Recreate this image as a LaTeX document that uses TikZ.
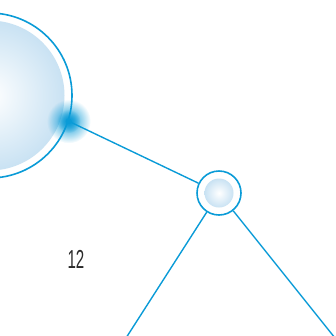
\documentclass[tikz,border=0pt]{standalone}
\usepackage{fontspec}
\setsansfont{Liberation Sans}
\usetikzlibrary{positioning,fadings}

\definecolor{linkblue}{HTML}{0A9BD7}
\definecolor{paleblue}{HTML}{C9E2F3}
\definecolor{numgray}{HTML}{2A2A2A}

\tikzfading[name=glowfade,inner color=transparent!0,outer color=transparent!100]

\tikzset{
  ring/.style={circle,draw=linkblue,line width=1.6pt,fill=white,inner sep=0pt},
  link/.style={draw=linkblue,line width=1.4pt},
  pale/.style={inner color=white,outer color=paleblue},
}

\begin{document}
\begin{tikzpicture}[x=1pt,y=-1pt]
\useasboundingbox (0,0) rectangle (336,335);
% nodes
\node[ring,minimum size=165pt] (hub) at (-10.5,95.5) {};
\shade[pale] (hub.center) circle (75pt);
\node[ring,minimum size=44pt] (sub) at (219,193) {};
\shade[pale] (sub.center) circle (14.5pt);
\coordinate (glow) at (hub.-18);
\coordinate (lowL) at (126,338);
\coordinate (lowR) at (335,338);
% links
\draw[link] (glow) -- (sub);
\draw[link] (sub) -- (lowL);
\draw[link] (sub) -- (lowR);
\fill[linkblue,path fading=glowfade] (glow) circle (22pt);
\fill[linkblue,path fading=glowfade] (glow) circle (12pt);
\fill[linkblue] (glow) circle (3pt);
\node[font=\sffamily\fontsize{26}{26}\selectfont,text=numgray,xscale=0.58] (num) at (76,259) {12};
\end{tikzpicture}
\end{document}
